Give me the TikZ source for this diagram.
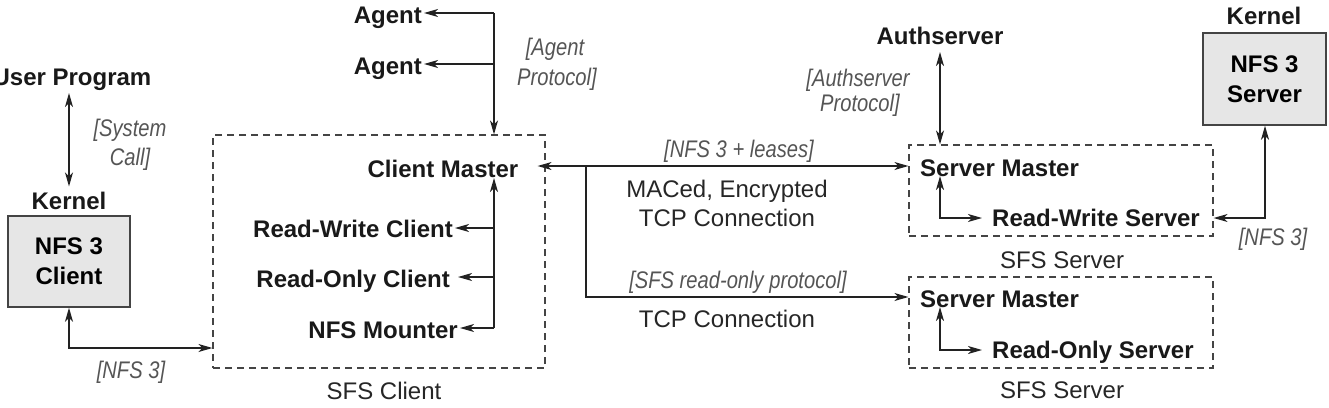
\documentclass[tikz,border=0pt]{standalone}
\usepackage{fontspec}
\setmainfont{Liberation Sans}
\newfontfamily\lblfont[FakeStretch=0.84]{Liberation Sans}
\usetikzlibrary{arrows.meta}
\definecolor{linec}{HTML}{222222}
\definecolor{labgray}{HTML}{555555}
\definecolor{kfill}{HTML}{E6E6E6}
\definecolor{kdraw}{HTML}{444444}
\definecolor{dboxc}{HTML}{444444}
\tikzset{
  bl/.style={font=\fontsize{24}{28}\selectfont\bfseries, text=black!90, inner sep=0pt, anchor=base},
  rl/.style={font=\fontsize{24}{28}\selectfont, text=black!85, inner sep=0pt, anchor=base},
  il/.style={font=\lblfont\fontsize{24}{28}\selectfont\itshape, text=labgray, inner sep=0pt, anchor=base},
  conn/.style={line width=1.3pt, draw=linec, >={Stealth[length=14pt,width=8pt,inset=4pt]}},
  dbox/.style={draw=dboxc, dash pattern=on 7pt off 5pt, line width=1.2pt, inner sep=0pt},
  kbox/.style={draw=kdraw, fill=kfill, line width=1.5pt, inner sep=0pt, align=center,
    font=\fontsize{24}{30}\selectfont\bfseries},
}
\begin{document}
\begin{tikzpicture}[x=1pt,y=-1pt]
\useasboundingbox (0,0) rectangle (1329,407);

% ---- left: user program / kernel NFS client
\node[bl] (userprog) at (72,85) {User Program};
\node[il] (sys1) at (130,136) {[System};
\node[il] (sys2) at (130,165) {Call]};
\node[bl] (kernelL) at (69,209) {Kernel};
\node[kbox, minimum width=122pt, minimum height=91pt] (nfsc) at (69,261.5) {NFS 3\\Client};
\node[il] (nfs3L) at (131,378) {[NFS 3]};

% ---- SFS client box
\node[dbox, minimum width=332pt, minimum height=233pt] (sfsc) at (379,251.5) {};
\node[rl] (sfsclbl) at (384,399) {SFS Client};

\node[bl, anchor=base east] (agent1) at (422,23) {Agent};
\node[bl, anchor=base east] (agent2) at (422,74) {Agent};
\node[il] (agp1) at (555,55) {[Agent};
\node[il] (agp2) at (557,85) {Protocol]};

\node[bl] (cm) at (443,177) {Client Master};
\node[bl, anchor=base east] (rwc) at (453,237) {Read-Write Client};
\node[bl, anchor=base east] (roc) at (450,287) {Read-Only Client};
\node[bl, anchor=base east] (mnt) at (458,338) {NFS Mounter};

% ---- middle labels
\node[il] (lease) at (739,157) {[NFS 3 + leases]};
\node[rl] (mac) at (727,197) {MACed, Encrypted};
\node[rl] (tcp1) at (727,226) {TCP Connection};
\node[il] (ro) at (738,288) {[SFS read-only protocol]};
\node[rl] (tcp2) at (727,327) {TCP Connection};

% ---- servers
\node[bl] (auth) at (940,44) {Authserver};
\node[il] (aup1) at (858,86) {[Authserver};
\node[il] (aup2) at (860,111) {Protocol]};

\node[dbox, minimum width=304pt, minimum height=91pt] (srv1) at (1061,190.5) {};
\node[bl, anchor=base west] (sm1) at (920,176) {Server Master};
\node[bl, anchor=base west] (rws) at (992,226) {Read-Write Server};
\node[rl] (sfss1) at (1062,268) {SFS Server};

\node[dbox, minimum width=304pt, minimum height=91pt] (srv2) at (1061,322.5) {};
\node[bl, anchor=base west] (sm2) at (920,307) {Server Master};
\node[bl, anchor=base west] (ros) at (992,358) {Read-Only Server};
\node[rl] (sfss2) at (1062,398) {SFS Server};

\node[bl] (kernelR) at (1264,24) {Kernel};
\node[kbox, minimum width=123pt, minimum height=92pt] (nfss) at (1264.5,79) {NFS 3\\Server};
\node[il] (nfs3R) at (1273,245) {[NFS 3]};

% ---- junction coordinates
\coordinate (j0) at (69,348);
\coordinate (jA1) at (494,13);
\coordinate (jA2) at (494,64);
\coordinate (jC1) at (494,228);
\coordinate (jC2) at (494,277);
\coordinate (jC3) at (494,328);
\coordinate (jM) at (586,166);
\coordinate (jM2) at (586,297);
\coordinate (jS1) at (940,218);
\coordinate (jS2) at (940,350);
\coordinate (jK) at (1265,218);

% ---- connectors
\draw[conn,<->] ([yshift=-8pt]kernelL.north |- userprog.base) -- ([yshift=5pt]kernelL.north);
\draw[conn,<->] (nfsc.south) -- (j0) -- (sfsc.west |- j0);

\draw[conn,->] (jA1) -- (sfsc.north -| jA1);
\draw[conn,->] (jA1) -- ([xshift=2pt]agent1.east |- jA1);
\draw[conn,->] (jA2) -- ([xshift=2pt]agent2.east |- jA2);

\draw[conn,->] (jC3) -- ([yshift=-1pt]jC3 |- cm.base);
\draw[conn,->] (jC1) -- ([xshift=2pt]rwc.east |- jC1);
\draw[conn,->] (jC2) -- ([xshift=8pt]roc.east |- jC2);
\draw[conn,->] (jC3) -- ([xshift=2pt]mnt.east |- jC3);

\draw[conn,<->] ([xshift=-8pt]sfsc.east |- jM) -- (srv1.west |- jM);
\draw[conn,->] (jM) -- (jM2) -- (srv2.west |- jM2);

\draw[conn,<->] ([yshift=-8pt]auth.base) -- (srv1.north -| auth.base);
\draw[conn,<->] (jS1 |- sm1.base) -- (jS1) -- ([xshift=-10pt]rws.west |- jS1);
\draw[conn,<->] (jS2 |- sm2.base) -- (jS2) -- ([xshift=-10pt]ros.west |- jS2);
\draw[conn,<->] (nfss.south -| jK) -- (jK) -- (srv1.east |- jK);
\end{tikzpicture}
\end{document}
